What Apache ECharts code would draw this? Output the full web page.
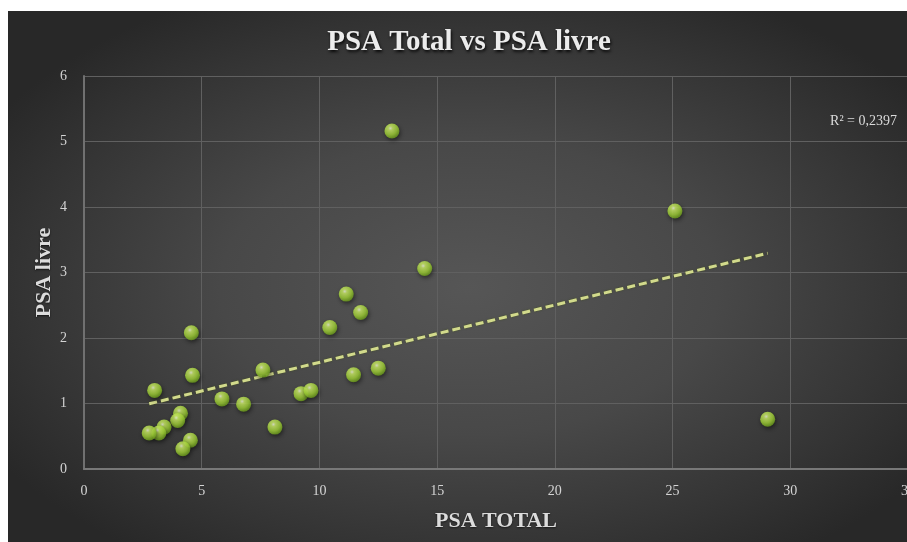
<!DOCTYPE html>
<html>
<head>
<meta charset="utf-8">
<script src="https://cdn.jsdelivr.net/npm/echarts@6/dist/echarts.min.js"></script>
<style>
  html, body { margin: 0; padding: 0; background: #ffffff; width: 907px; height: 542px; overflow: hidden; position: relative; }
  #chart { position: absolute; left: 8px; top: 11px; width: 922px; height: 531px;
    background: radial-gradient(ellipse 60% 62% at 50% 52%, #565656 0%, #484848 45%, #343434 80%, #282828 100%); }
</style>
</head>
<body>
<div id="chart"></div>
<script>
const titleText = 'PSA Total vs PSA livre';
const xAxisName = 'PSA TOTAL';
const yAxisName = 'PSA livre';
const r2Label = 'R² = 0,2397';

const psaTotal = [13.08, 25.10, 29.04, 14.47, 11.14, 11.75, 10.44, 4.56, 4.61, 3.00, 5.86, 6.78, 7.60, 8.11, 9.22, 9.64, 11.45, 12.50, 4.10, 3.98, 3.40, 3.18, 2.77, 4.52, 4.20];
const psaLivre = [5.16, 3.94, 0.76, 3.06, 2.67, 2.39, 2.16, 2.08, 1.43, 1.20, 1.07, 0.99, 1.51, 0.64, 1.15, 1.20, 1.44, 1.54, 0.85, 0.74, 0.64, 0.55, 0.55, 0.44, 0.31];

const xTicks = { min: 0, max: 35, interval: 5 };
const yTicks = { min: 0, max: 6, interval: 1 };

// linear least-squares trendline
const n = psaTotal.length;
const mx = psaTotal.reduce((a, b) => a + b, 0) / n;
const my = psaLivre.reduce((a, b) => a + b, 0) / n;
let sxy = 0, sxx = 0;
for (let i = 0; i < n; i++) { sxy += (psaTotal[i] - mx) * (psaLivre[i] - my); sxx += (psaTotal[i] - mx) ** 2; }
const slope = sxy / sxx;
const intercept = my - slope * mx;
const xMin = Math.min(...psaTotal), xMax = Math.max(...psaTotal);
const trend = [[xMin, intercept + slope * xMin], [xMax, intercept + slope * xMax]];

const points = psaTotal.map((x, i) => [x, psaLivre[i]]);

const chart = echarts.init(document.getElementById('chart'), null, { renderer: 'canvas' });
const serif = '"Liberation Serif", "Times New Roman", serif';
chart.setOption({
  backgroundColor: 'transparent',
  animation: false,
  title: {
    text: titleText,
    left: 'center',
    top: 12,
    textStyle: {
      fontFamily: serif, fontWeight: 'bold', fontSize: 29, color: '#ececec',
      textShadowColor: 'rgba(0,0,0,0.85)', textShadowBlur: 3, textShadowOffsetX: 1, textShadowOffsetY: 2
    }
  },
  grid: { left: 76, top: 65, width: 824, height: 393, containLabel: false },
  xAxis: {
    type: 'value', min: xTicks.min, max: xTicks.max, interval: xTicks.interval,
    name: xAxisName, nameLocation: 'middle', nameGap: 41,
    nameTextStyle: { fontFamily: serif, fontWeight: 'bold', fontSize: 22, color: '#dcdcdc',
      textShadowColor: 'rgba(0,0,0,0.6)', textShadowBlur: 2, textShadowOffsetY: 1 },
    axisLine: { show: true, lineStyle: { color: '#787878', width: 2 } },
    axisTick: { show: false },
    axisLabel: { fontFamily: serif, fontSize: 14, color: '#d4d4d4', margin: 15 },
    splitLine: { show: true, lineStyle: { color: '#606060', width: 1 } }
  },
  yAxis: {
    type: 'value', min: yTicks.min, max: yTicks.max, interval: yTicks.interval,
    name: yAxisName, nameLocation: 'middle', nameGap: 29, nameRotate: 90, nameMoveOverlap: false,
    nameTextStyle: { fontFamily: serif, fontWeight: 'bold', fontSize: 22, color: '#dcdcdc',
      textShadowColor: 'rgba(0,0,0,0.6)', textShadowBlur: 2, textShadowOffsetY: 1 },
    axisLine: { show: true, lineStyle: { color: '#707070', width: 2 } },
    axisTick: { show: false },
    axisLabel: { fontFamily: serif, fontSize: 14, color: '#d4d4d4', margin: 17 },
    splitLine: { show: true, lineStyle: { color: '#606060', width: 1 } }
  },
  graphic: [{
    type: 'text', right: 33, top: 103,
    style: { text: r2Label, fontFamily: serif, fontSize: 14, fill: '#dadada' }
  }],
  series: [
    {
      type: 'line', data: trend, showSymbol: false, z: 2, silent: true,
      lineStyle: { type: [8, 4], color: '#d2da8c', width: 3,
        shadowColor: 'rgba(60,80,0,0.6)', shadowBlur: 2 }
    },
    {
      type: 'scatter', data: points, symbol: 'circle', symbolSize: 15, z: 3,
      itemStyle: {
        color: { type: 'radial', x: 0.4, y: 0.32, r: 0.72,
          colorStops: [
            { offset: 0, color: '#f8ffe0' },
            { offset: 0.2, color: '#d0f26a' },
            { offset: 0.6, color: '#a6d63a' },
            { offset: 1, color: '#649418' }
          ] },
        shadowColor: 'rgba(0,0,0,0.6)', shadowBlur: 4, shadowOffsetX: 1, shadowOffsetY: 2
      }
    }
  ]
});
</script>
</body>
</html>
